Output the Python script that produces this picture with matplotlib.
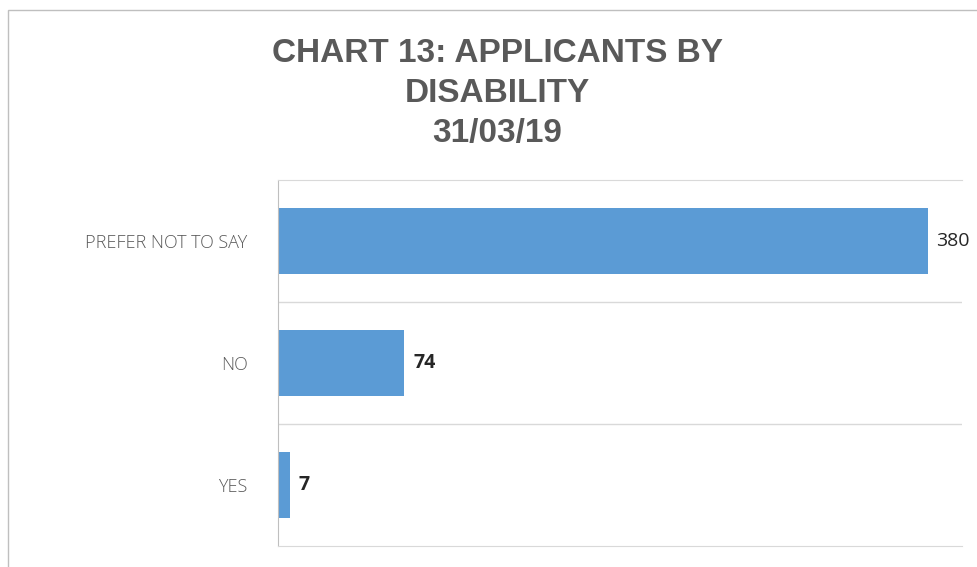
import matplotlib.pyplot as plt
from matplotlib.patches import Rectangle
from matplotlib.ticker import FixedLocator

categories = ["PREFER NOT TO SAY", "NO", "YES"]
applicants = [380, 74, 7]
title_lines = ["CHART 13: APPLICANTS BY", "DISABILITY", "31/03/19"]

bar_color = "#5b9bd5"
grid_color = "#d9d9d9"
text_gray = "#595959"

fig = plt.figure(figsize=(9.77, 5.67), dpi=100)
fig.patch.set_facecolor("white")

# light frame round the chart area
fig.patches.append(Rectangle((0.008, -0.05), 1.1, 1.032, transform=fig.transFigure,
                             fill=False, edgecolor="#bfbfbf", lw=1))

ax = fig.add_axes([0.2845, 0.037, 0.70, 0.6455])
ypos = list(range(len(categories)))
bars = ax.barh(ypos, applicants, height=0.54, color=bar_color)

ax.set_xlim(0, 400)
ax.set_ylim(len(categories) - 0.5, -0.5)
ax.set_xticks([])
ax.set_yticks(ypos)
ax.set_yticklabels(categories, fontsize=13, color=text_gray, family="Open Sans",
                   fontweight="light")
ax.tick_params(axis="y", length=0, pad=22)

# category separators
ax.yaxis.set_minor_locator(FixedLocator([0.5, 1.5]))
ax.tick_params(axis="y", which="minor", length=0)
ax.grid(True, axis="y", which="minor", color=grid_color, lw=1)

for side in ["top", "bottom"]:
    ax.spines[side].set_color(grid_color)
ax.spines["right"].set_visible(False)
ax.spines["left"].set_color("#bfbfbf")

for rect, val in zip(bars, applicants):
    weight = "normal" if val >= 100 else "bold"
    ax.text(rect.get_width() + 5, rect.get_y() + rect.get_height() / 2, str(val),
            va="center", ha="left", fontsize=14, color="#262626", family="Open Sans",
            fontweight=weight)

for i, line in enumerate(title_lines):
    fig.text(0.509, 0.906 - i * 0.071, line, ha="center", va="center",
             fontsize=24, fontweight="bold", color=text_gray, family="Liberation Sans")

fig.savefig("out.png", dpi=100)
